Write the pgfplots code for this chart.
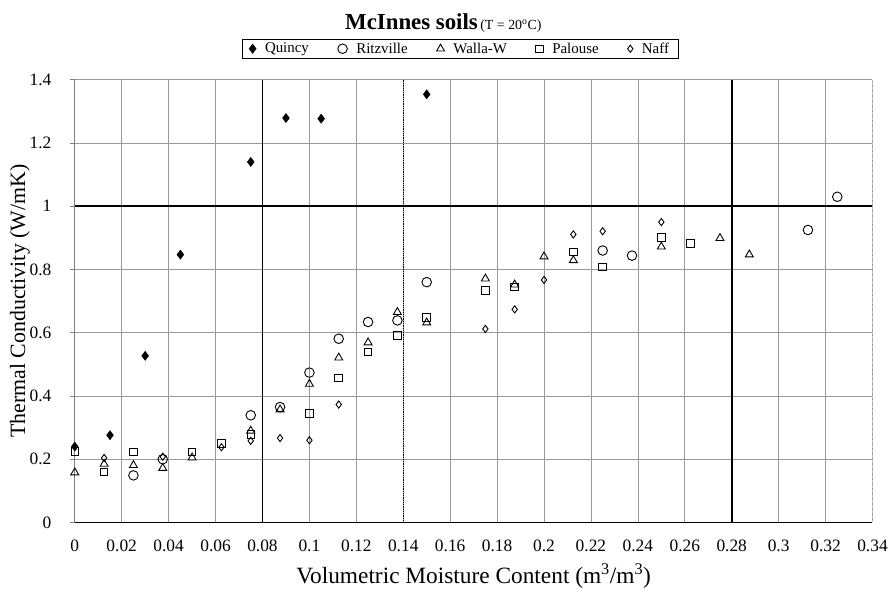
\documentclass[border=0pt]{standalone}
\usepackage{fontspec}
\setmainfont{Liberation Serif}
\usepackage{pgfplots}
\pgfplotsset{compat=1.18}
\begin{document}
\begin{tikzpicture}
\begin{axis}[
    name=ax,
    scale only axis,
    width=800bp, height=444bp,
    xmin=0, xmax=0.34,
    ymin=0, ymax=1.4,
    xtick={0,0.02,0.04,0.06,0.08,0.1,0.12,0.14,0.16,0.18,0.2,0.22,0.24,0.26,0.28,0.3,0.32,0.34},
    xticklabels={0,0.02,0.04,0.06,0.08,0.1,0.12,0.14,0.16,0.18,0.2,0.22,0.24,0.26,0.28,0.3,0.32,0.34},
    ytick={0,0.2,0.4,0.6,0.8,1,1.2,1.4},
    yticklabels={0,0.2,0.4,0.6,0.8,1,1.2,1.4},
    ticklabel style={font=\fontsize{17.5}{19}\selectfont},
    xticklabel style={yshift=-9bp},
    yticklabel style={xshift=-15bp},
    tick align=outside,
    major tick length=5bp,
    xtick style={draw=none},
    ytick style={gray, line width=0.6bp},
    axis x line*=bottom,
    axis y line*=left,
    x axis line style={-, black, line width=0.8bp},
    y axis line style={-, gray, line width=0.6bp},
    grid=major,
    major grid style={gray!80, line width=0.6bp},
    extra x ticks={0.08,0.28},
    extra x tick labels={},
    extra y ticks={1},
    extra y tick labels={},
    extra tick style={grid=major, major grid style={black, line width=1.6bp}, tick style={draw=none}},
    xlabel={Volumetric Moisture Content (m\textsuperscript{3}/m\textsuperscript{3})},
    ylabel={Thermal Conductivity (W/mK)},
    xlabel style={font=\fontsize{23.5}{25}\selectfont, yshift=5bp},
    ylabel style={font=\fontsize{22}{24}\selectfont, yshift=-17bp},
    title={\textbf{\fontsize{23}{25}\selectfont McInnes soils}\ {\fontsize{14}{16}\selectfont (T = 20\textsuperscript{o}C)}},
    title style={at={(0.462,1.086)}, anchor=south},
    legend columns=5,
    legend style={at={(0.483,1.048)}, anchor=south, draw=black, line width=0.6bp,
        font=\fontsize{15}{17}\selectfont, inner xsep=7bp, inner ysep=1.5bp,
        /tikz/every odd column/.append style={column sep=7bp},
        /tikz/every even column/.append style={column sep=27bp}},
    legend cell align=left,
    clip=false,
]
\draw[densely dotted, black, line width=0.8bp] (axis cs:0.14,0) -- (axis cs:0.14,1.4);
\draw[densely dashed, gray!50, line width=0.6bp] (axis cs:0.34,0) -- (axis cs:0.34,1.4);

% Quincy
\addplot[only marks, mark=diamond*, mark size=4.6bp, black, fill=black] coordinates {
  (0,0.24) (0.015,0.276) (0.03,0.527) (0.045,0.847) (0.075,1.14)
  (0.09,1.279) (0.105,1.277) (0.15,1.354)
};
% Ritzville
\addplot[only marks, mark=o, mark size=4.8bp, black, line width=0.9bp] coordinates {
  (0.025,0.149) (0.0375,0.2) (0.075,0.339) (0.0875,0.365) (0.1,0.474)
  (0.1125,0.581) (0.125,0.634) (0.1375,0.639) (0.15,0.76) (0.225,0.86)
  (0.2375,0.844) (0.3125,0.925) (0.325,1.03)
};
% Walla-W
\addplot[only marks, mark=triangle, mark size=4.6bp, black, line width=0.9bp] coordinates {
  (0,0.158) (0.0125,0.185) (0.025,0.181) (0.0375,0.172) (0.05,0.205)
  (0.075,0.29) (0.0875,0.357) (0.1,0.438) (0.1125,0.521) (0.125,0.569)
  (0.1375,0.665) (0.15,0.632) (0.175,0.771) (0.1875,0.752) (0.2,0.841)
  (0.2125,0.829) (0.25,0.872) (0.275,0.899) (0.2875,0.847)
};
% Palouse
\addplot[only marks, mark=square, mark size=3.8bp, black, line width=0.9bp] coordinates {
  (0,0.224) (0.0125,0.16) (0.025,0.223) (0.05,0.223) (0.0625,0.25)
  (0.075,0.278) (0.1,0.344) (0.1125,0.457) (0.125,0.539) (0.1375,0.592)
  (0.15,0.648) (0.175,0.734) (0.1875,0.745) (0.2125,0.855) (0.225,0.808)
  (0.25,0.902) (0.2625,0.882)
};
% Naff
\addplot[only marks, mark=diamond, mark size=3.6bp, black, line width=0.9bp] coordinates {
  (0.0125,0.204) (0.0375,0.208) (0.0625,0.238) (0.075,0.258) (0.0875,0.267)
  (0.1,0.26) (0.1125,0.373) (0.175,0.612) (0.1875,0.674) (0.2,0.767)
  (0.2125,0.911) (0.225,0.921) (0.25,0.95)
};
\legend{Quincy, Ritzville, Walla-W, Palouse, Naff}
\end{axis}
\path (ax.south west) ++(-75bp,-62bp) rectangle ++(891bp,586bp);
\end{tikzpicture}
\end{document}
